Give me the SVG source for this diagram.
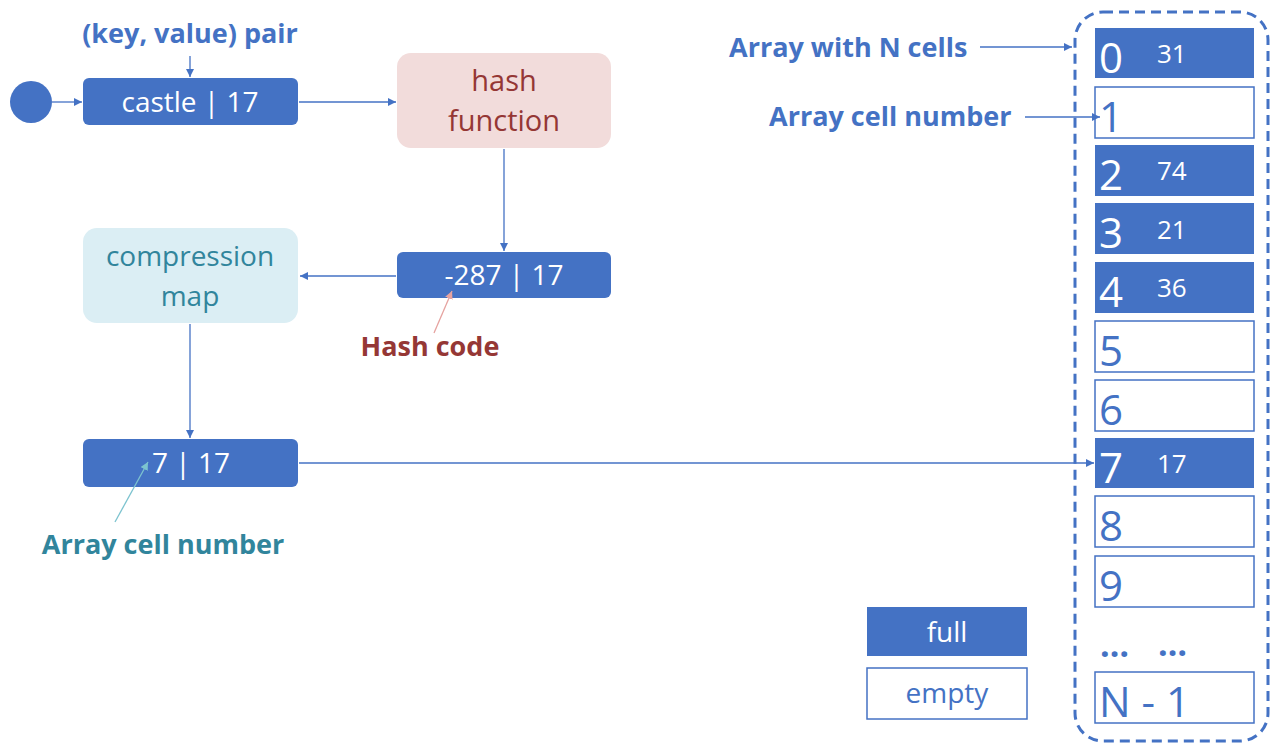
<svg xmlns="http://www.w3.org/2000/svg" width="1271" height="745" viewBox="0 0 1271 745">
  <style>
    text { font-family: "Open Sans", "Noto Sans", "Liberation Sans", sans-serif; }
    .full { fill: #4472c4; }
    .empty { fill: #ffffff; stroke: #4472c4; stroke-width: 1.5; }
    .wt { fill: #ffffff; font-size: 28px; text-anchor: middle; }
    .idx { font-size: 42px; }
    .idx-w { fill: #ffffff; }
    .idx-b { fill: #4472c4; }
    .val { fill: #ffffff; font-size: 26px; }
    .lbl { font-weight: bold; font-size: 27px; }
    .conn { stroke: #4472c4; stroke-width: 1.3; fill: none; }
  </style>
  <defs>
    <marker id="ah" viewBox="0 0 10 10" refX="10" refY="5" markerWidth="8" markerHeight="8" markerUnits="userSpaceOnUse" orient="auto">
      <path d="M0,0 L10,5 L0,10 z" fill="#4472c4"/>
    </marker>
    <marker id="ah-red" viewBox="0 0 10 10" refX="10" refY="5" markerWidth="8" markerHeight="8" markerUnits="userSpaceOnUse" orient="auto">
      <path d="M0,0 L10,5 L0,10 z" fill="#e6a3a0"/>
    </marker>
    <marker id="ah-teal" viewBox="0 0 10 10" refX="10" refY="5" markerWidth="8" markerHeight="8" markerUnits="userSpaceOnUse" orient="auto">
      <path d="M0,0 L10,5 L0,10 z" fill="#7cc3cf"/>
    </marker>
  </defs>

  <rect width="1271" height="745" fill="#ffffff"/>

  <!-- left-hand flow -->
  <g id="start">
    <circle cx="31" cy="102" r="21" fill="#4472c4"/>
  </g>
  <g id="pair-label">
    <text class="lbl" x="190" y="43" text-anchor="middle" fill="#4472c4">(key, value) pair</text>
  </g>
  <g id="castle">
    <rect class="full" x="83" y="78" width="215" height="47" rx="6"/>
    <text class="wt" x="190" y="112">castle | 17</text>
  </g>
  <g id="hash-function">
    <rect x="397" y="53" width="214" height="95" rx="14" fill="#f2dcdb"/>
    <text x="504" y="91" text-anchor="middle" font-size="29" fill="#953735">hash</text>
    <text x="504" y="131" text-anchor="middle" font-size="29" fill="#953735">function</text>
  </g>
  <g id="hash-value">
    <rect class="full" x="397" y="252" width="214" height="46" rx="6"/>
    <text class="wt" x="504" y="285">-287 | 17</text>
  </g>
  <g id="hash-code-label">
    <text class="lbl" x="430" y="356" text-anchor="middle" fill="#953735">Hash code</text>
  </g>
  <g id="compression-map">
    <rect x="83" y="228" width="215" height="95" rx="14" fill="#dbeef4"/>
    <text x="190" y="266" text-anchor="middle" font-size="28" fill="#31859c">compression</text>
    <text x="190" y="306" text-anchor="middle" font-size="28" fill="#31859c">map</text>
  </g>
  <g id="index-value">
    <rect class="full" x="83" y="439" width="215" height="48" rx="6"/>
    <text class="wt" x="191" y="473">7 | 17</text>
  </g>
  <g id="cell-number-label">
    <text class="lbl" x="163" y="554" text-anchor="middle" fill="#31859c">Array cell number</text>
  </g>

  <!-- array labels -->
  <g id="array-label">
    <text class="lbl" x="729" y="57" fill="#4472c4">Array with N cells</text>
  </g>
  <g id="cell-label">
    <text class="lbl" x="769" y="126" fill="#4472c4">Array cell number</text>
  </g>

  <!-- array of N cells -->
  <g id="array">
    <rect x="1075" y="12" width="193" height="729" rx="28" fill="none" stroke="#4472c4" stroke-width="3" stroke-dasharray="10,6"/>

    <g id="cell-0">
      <rect class="full" x="1095" y="28" width="159" height="50"/>
      <text class="idx idx-w" x="1099" y="73">0</text>
      <text class="val" x="1157" y="63">31</text>
    </g>
    <g id="cell-1">
      <rect class="empty" x="1095" y="87" width="159" height="51"/>
      <text class="idx idx-b" x="1099" y="132">1</text>
    </g>
    <g id="cell-2">
      <rect class="full" x="1095" y="145" width="159" height="51"/>
      <text class="idx idx-w" x="1099" y="190">2</text>
      <text class="val" x="1157" y="180">74</text>
    </g>
    <g id="cell-3">
      <rect class="full" x="1095" y="203" width="159" height="51"/>
      <text class="idx idx-w" x="1099" y="248">3</text>
      <text class="val" x="1157" y="239">21</text>
    </g>
    <g id="cell-4">
      <rect class="full" x="1095" y="262" width="159" height="51"/>
      <text class="idx idx-w" x="1099" y="307">4</text>
      <text class="val" x="1157" y="297">36</text>
    </g>
    <g id="cell-5">
      <rect class="empty" x="1095" y="321" width="159" height="51"/>
      <text class="idx idx-b" x="1099" y="366">5</text>
    </g>
    <g id="cell-6">
      <rect class="empty" x="1095" y="380" width="159" height="51"/>
      <text class="idx idx-b" x="1099" y="425">6</text>
    </g>
    <g id="cell-7">
      <rect class="full" x="1095" y="438" width="159" height="50"/>
      <text class="idx idx-w" x="1099" y="483">7</text>
      <text class="val" x="1157" y="473">17</text>
    </g>
    <g id="cell-8">
      <rect class="empty" x="1095" y="496" width="159" height="51"/>
      <text class="idx idx-b" x="1099" y="541">8</text>
    </g>
    <g id="cell-9">
      <rect class="empty" x="1095" y="556" width="159" height="51"/>
      <text class="idx idx-b" x="1099" y="601">9</text>
    </g>
    <g id="ellipsis">
      <text x="1100" y="657" font-size="34" font-weight="bold" fill="#4472c4">…</text>
      <text x="1158" y="656" font-size="34" font-weight="bold" fill="#4472c4">…</text>
    </g>
    <g id="cell-last">
      <rect class="empty" x="1095" y="672" width="159" height="51"/>
      <text class="idx idx-b" x="1099" y="717">N - 1</text>
    </g>
  </g>

  <!-- legend -->
  <g id="legend-full">
    <rect class="full" x="867" y="607" width="160" height="49"/>
    <text class="wt" x="947" y="642">full</text>
  </g>
  <g id="legend-empty">
    <rect class="empty" x="867" y="668" width="160" height="51"/>
    <text x="947" y="703" text-anchor="middle" font-size="28" fill="#4472c4">empty</text>
  </g>

  <!-- connectors -->
  <g id="connectors">
    <line class="conn" x1="190" y1="56" x2="190" y2="77" marker-end="url(#ah)"/>
    <line class="conn" x1="52" y1="102" x2="82" y2="102" marker-end="url(#ah)"/>
    <line class="conn" x1="299" y1="102" x2="396" y2="102" marker-end="url(#ah)"/>
    <line class="conn" x1="504" y1="149" x2="504" y2="251" marker-end="url(#ah)"/>
    <line class="conn" x1="396" y1="276" x2="300" y2="276" marker-end="url(#ah)"/>
    <line class="conn" x1="190" y1="324" x2="190" y2="438" marker-end="url(#ah)"/>
    <line class="conn" x1="299" y1="463" x2="1094" y2="463" marker-end="url(#ah)"/>
    <line class="conn" x1="980" y1="47" x2="1072" y2="47" marker-end="url(#ah)"/>
    <line class="conn" x1="1025" y1="117" x2="1100" y2="117" marker-end="url(#ah)"/>
    <line x1="434" y1="333" x2="452" y2="291" stroke="#e6a3a0" stroke-width="1.3" marker-end="url(#ah-red)"/>
    <line x1="115" y1="522" x2="148" y2="462" stroke="#7cc3cf" stroke-width="1.3" marker-end="url(#ah-teal)"/>
  </g>
</svg>
